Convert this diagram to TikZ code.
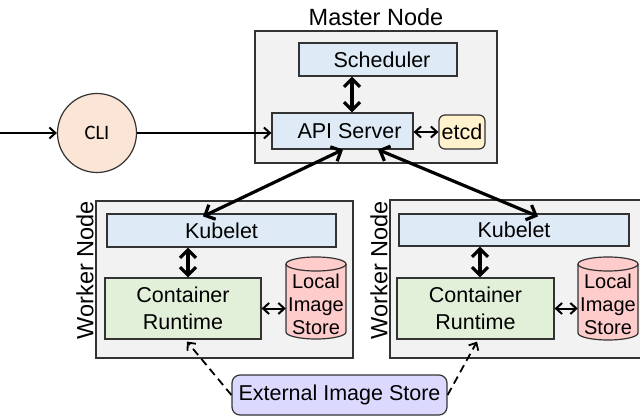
\documentclass[tikz,border=0pt]{standalone}
\usepackage{fontspec}
\setmainfont{Liberation Sans}
\newfontfamily\clifont{Carlito}
\usetikzlibrary{arrows.meta,calc}
\definecolor{boxgray}{HTML}{F2F2F2}
\definecolor{edgegray}{HTML}{333333}
\definecolor{lblue}{HTML}{DEEBF7}
\definecolor{lgreen}{HTML}{E2F0D9}
\definecolor{lpink}{HTML}{FFCCCC}
\definecolor{lyellow}{HTML}{FFF2CC}
\definecolor{lpeach}{HTML}{FBE5D6}
\definecolor{lpurple}{HTML}{DCD9FF}
\tikzset{
  outerbox/.style={draw=edgegray, fill=boxgray, line width=1.4pt},
  comp/.style={draw=edgegray, line width=1.2pt, inner sep=0pt, align=center, font=\fontsize{21.5}{27}\selectfont},
  title/.style={inner sep=0pt, font=\fontsize{23.5}{28}\selectfont},
  bigarrow/.style={line width=3.2pt, {Straight Barb[length=8pt,width=16pt]}-{Straight Barb[length=8pt,width=16pt]}},
  thinarrow/.style={line width=2pt, -{Straight Barb[length=6pt,width=11pt]}},
  thinboth/.style={line width=2pt, {Straight Barb[length=6pt,width=11pt]}-{Straight Barb[length=6pt,width=11pt]}},
  dasharrow/.style={line width=1.8pt, dash pattern=on 8pt off 5pt, -{Straight Barb[length=6pt,width=11pt]}},
}
\begin{document}
\begin{tikzpicture}[x=1pt,y=-1pt]
\useasboundingbox (0,0) rectangle (640,417);
% master node
\node[outerbox, inner sep=0pt, minimum width=242pt, minimum height=132pt] (master) at (376,97) {};
\node[title] (mtitle) at (376,17) {Master Node};
\node[comp, fill=lblue, minimum width=158pt, minimum height=33pt] (sched) at (378,59.5) {\hspace*{8pt}Scheduler};
\node[comp, fill=lblue, minimum width=141pt, minimum height=36pt] (api) at (342.5,131) {\hspace*{14pt}API Server};
\node[comp, fill=lyellow, rounded corners=6pt, minimum width=46pt, minimum height=34pt] (etcd) at (462,132) {etcd};
% CLI
\node[circle, draw=edgegray, line width=1.2pt, fill=lpeach, minimum size=79pt, inner sep=0pt, font=\clifont\fontsize{20.5}{24}\selectfont] (cli) at (97,133) {CLI};
\coordinate (start) at (0,133);
% worker nodes
\node[outerbox, inner sep=0pt, minimum width=257pt, minimum height=157pt] (w1) at (224.5,279.5) {};
\node[outerbox, inner sep=0pt, minimum width=252pt, minimum height=158pt] (w2) at (516,279) {};
\node[title, rotate=90] (w1t) at (85,270) {Worker Node};
\node[title, rotate=90] (w2t) at (379,270) {Worker Node};
\node[comp, fill=lblue, minimum width=229pt, minimum height=33pt] (kub1) at (221.5,230.5) {Kubelet};
\node[comp, fill=lblue, minimum width=230pt, minimum height=32pt] (kub2) at (514,230) {Kubelet};
\node[comp, fill=lgreen, minimum width=156pt, minimum height=61pt] (cr1) at (183,308.5) {Container\\Runtime};
\node[comp, fill=lgreen, minimum width=157pt, minimum height=61pt] (cr2) at (475.5,308.5) {Container\\Runtime};
% cylinders
\draw[draw=edgegray, line width=1.2pt, fill=lpink] (286,264) -- (286,332) arc[start angle=180,end angle=360,x radius=30pt,y radius=7pt] -- (346,264) arc[start angle=0,end angle=180,x radius=30pt,y radius=7pt] -- cycle;
\draw[draw=edgegray, line width=1.2pt] (286,264) arc[start angle=180,end angle=360,x radius=30pt,y radius=7pt];
\draw[draw=edgegray, line width=1.2pt, fill=lpink] (578,264) -- (578,333) arc[start angle=180,end angle=360,x radius=30pt,y radius=7pt] -- (638,264) arc[start angle=0,end angle=180,x radius=30pt,y radius=7pt] -- cycle;
\draw[draw=edgegray, line width=1.2pt] (578,264) arc[start angle=180,end angle=360,x radius=30pt,y radius=7pt];
\node[inner sep=0pt, align=center, minimum width=60pt, minimum height=70pt, font=\fontsize{20}{23}\selectfont] (ls1) at (316,304) {Local\\Image\\Store};
\node[inner sep=0pt, align=center, minimum width=60pt, minimum height=70pt, font=\fontsize{20}{23}\selectfont] (ls2) at (608,304) {Local\\Image\\Store};
% external store
\node[comp, fill=lpurple, rounded corners=8pt, minimum width=215pt, minimum height=40pt] (ext) at (339.5,395) {External Image Store};
% connectors
\draw[thinarrow] (start) -- (cli.west);
\draw[thinarrow] (cli.east) -- (cli.east -| api.west);
\draw[bigarrow] ([xshift=-26pt]sched.south) -- ([xshift=-26pt]sched.south |- api.north);
\draw[thinboth] (api.east |- etcd.west) -- (etcd.west);
\draw[bigarrow] ([xshift=0.5pt]api.south) -- ([xshift=-18.5pt,yshift=-3pt]kub1.north);
\draw[bigarrow] ([xshift=35.5pt]api.south) -- ([xshift=24pt,yshift=-3pt]kub2.north);
\draw[bigarrow] ([xshift=5pt]cr1.north |- kub1.south) -- ([xshift=5pt]cr1.north);
\draw[bigarrow] ([xshift=4.5pt]cr2.north |- kub2.south) -- ([xshift=4.5pt]cr2.north);
\draw[thinboth] (cr1.east) -- (cr1.east -| ls1.west);
\draw[thinboth] (cr2.east) -- (cr2.east -| ls2.west);
\draw[dasharrow] (ext.west) -- ([xshift=4pt,yshift=-2pt]cr1.south);
\draw[dasharrow] (ext.east) -- ([xshift=1.5pt,yshift=-2pt]cr2.south);
\end{tikzpicture}
\end{document}
